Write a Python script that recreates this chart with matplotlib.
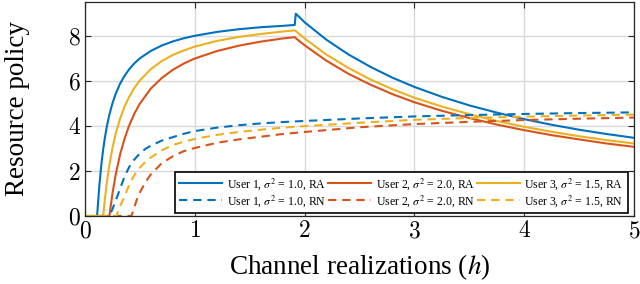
import matplotlib
matplotlib.use("Agg")
import matplotlib.pyplot as plt

# channel realizations for the risk-averse (RA) curves
h_ra = [0, 0.11, 0.13, 0.15, 0.167, 0.18, 0.2, 0.222, 0.25, 0.28, 0.32, 0.36, 0.4,
        0.45, 0.5, 0.6, 0.7, 0.8, 0.9, 1.0, 1.2, 1.4, 1.6, 1.8, 1.91, 1.92, 2.0,
        2.2, 2.4, 2.6, 2.8, 3.0, 3.25, 3.5, 3.75, 4.0, 4.25, 4.5, 4.75, 5.0]
ra_user1 = [0, 0, 1.31, 2.33, 3.01, 3.44, 4.0, 4.5, 5.0, 5.43, 5.88, 6.22, 6.5,
            6.78, 7.0, 7.33, 7.57, 7.75, 7.89, 8.0, 8.17, 8.29, 8.38, 8.44, 8.48, 8.98, 8.6,
            7.82, 7.17, 6.62, 6.14, 5.73, 5.29, 4.91, 4.59, 4.3, 4.05, 3.83, 3.64, 3.47]
ra_user2 = [0, 0, 0, 0, 0, 0, 0, 0, 0.99, 1.85, 2.74, 3.43, 3.99,
            4.55, 4.99, 5.66, 6.13, 6.49, 6.77, 6.99, 7.32, 7.56, 7.74, 7.88, 7.94, 7.89, 7.58,
            6.89, 6.31, 5.83, 5.41, 5.05, 4.67, 4.35, 4.06, 3.81, 3.59, 3.4, 3.22, 3.07]
ra_user3 = [0, 0, 0, 0, 0.05, 0.69, 1.52, 2.26, 3.02, 3.66, 4.33, 4.85, 5.27,
            5.69, 6.02, 6.52, 6.88, 7.15, 7.35, 7.52, 7.77, 7.95, 8.08, 8.19, 8.24, 8.21, 7.88,
            7.16, 6.57, 6.06, 5.63, 5.25, 4.86, 4.52, 4.22, 3.96, 3.74, 3.54, 3.37, 3.22]

# channel realizations for the risk-neutral (RN) curves
h_rn = [0, 0.22, 0.25, 0.27, 0.29, 0.3, 0.32, 0.33, 0.36, 0.4, 0.42, 0.43, 0.47,
        0.5, 0.55, 0.6, 0.7, 0.8, 0.9, 1.0, 1.2, 1.4, 1.6, 1.8, 2.0, 2.5, 3.0,
        3.5, 4.0, 4.5, 5.0]
rn_user1 = [0, 0, 0.3, 0.57, 0.82, 0.95, 1.22, 1.35, 1.75, 2.15, 2.32, 2.4, 2.62,
            2.78, 2.98, 3.12, 3.35, 3.5, 3.65, 3.77, 3.92, 4.03, 4.11, 4.17, 4.22, 4.33, 4.42,
            4.48, 4.53, 4.57, 4.6]
rn_user2 = [0, 0, 0, 0, 0, 0, 0, 0, 0, 0, 0, 0.1, 0.7,
            1.05, 1.5, 1.85, 2.35, 2.65, 2.88, 3.02, 3.25, 3.4, 3.52, 3.64, 3.73, 3.94, 4.08,
            4.18, 4.26, 4.32, 4.37]
rn_user3 = [0, 0, 0, 0, 0, 0.2, 0.43, 0.55, 0.88, 1.35, 1.55, 1.65, 1.98,
            2.15, 2.4, 2.6, 2.92, 3.15, 3.3, 3.42, 3.6, 3.73, 3.83, 3.92, 3.99, 4.14, 4.27,
            4.35, 4.41, 4.46, 4.5]

users = ['User 1', 'User 2', 'User 3']
sigma2 = ['1.0', '2.0', '1.5']
colors = ['#0072BD', '#D95319', '#EDB120']

plt.rcParams['mathtext.fontset'] = 'stix'
plt.rcParams['axes.formatter.use_mathtext'] = True

fig = plt.figure(figsize=(6.4, 2.84), dpi=100)
ax = fig.add_axes([0.1328, 0.2394, 0.8578, 0.7536])

ra_lines = []
for y, c in zip([ra_user1, ra_user2, ra_user3], colors):
    ln, = ax.plot(h_ra, y, color=c, lw=1.5)
    ra_lines.append(ln)
rn_lines = []
for y, c in zip([rn_user1, rn_user2, rn_user3], colors):
    ln, = ax.plot(h_rn, y, color=c, lw=1.5, linestyle=(0, (4, 2.8)))
    rn_lines.append(ln)

ax.set_xlim(0, 5)
ax.set_ylim(0, 9.5)
ax.set_xticks([0, 1, 2, 3, 4, 5])
ax.set_yticks([0, 2, 4, 6, 8])
ax.grid(True, color='#d9d9d9', lw=1)
ax.set_axisbelow(True)
ax.tick_params(direction='in', top=True, right=True, length=4, width=0.8,
               color='#262626', labelsize=17, pad=3)
for lab in ax.get_xticklabels() + ax.get_yticklabels():
    lab.set_fontfamily('cmr10')
for sp in ax.spines.values():
    sp.set_color('#262626')
    sp.set_linewidth(0.9)

ax.set_xlabel('Channel realizations ($h$)', family='Liberation Serif', fontsize=19.5, labelpad=7)
ax.set_ylabel('Resource policy', family='Liberation Serif', fontsize=19.5, labelpad=27)

# legend fills column by column, so interleave RA and RN
handles, labels = [], []
for i in range(3):
    handles.append(ra_lines[i])
    labels.append(users[i] + ', $\\sigma^2$ = ' + sigma2[i] + ', RA')
    handles.append(rn_lines[i])
    labels.append(users[i] + ', $\\sigma^2$ = ' + sigma2[i] + ', RN')
leg = ax.legend(handles, labels, ncol=3, loc='lower right', bbox_to_anchor=(0.989, 0.014),
                borderaxespad=0, fancybox=False, framealpha=1, edgecolor='k',
                prop={'family': 'Liberation Serif', 'size': 8.5}, handlelength=3.6,
                handletextpad=0.4, columnspacing=0.2, labelspacing=0.12, borderpad=0.35)
leg.get_frame().set_linewidth(1.2)

fig.savefig('out.png', dpi=100)
